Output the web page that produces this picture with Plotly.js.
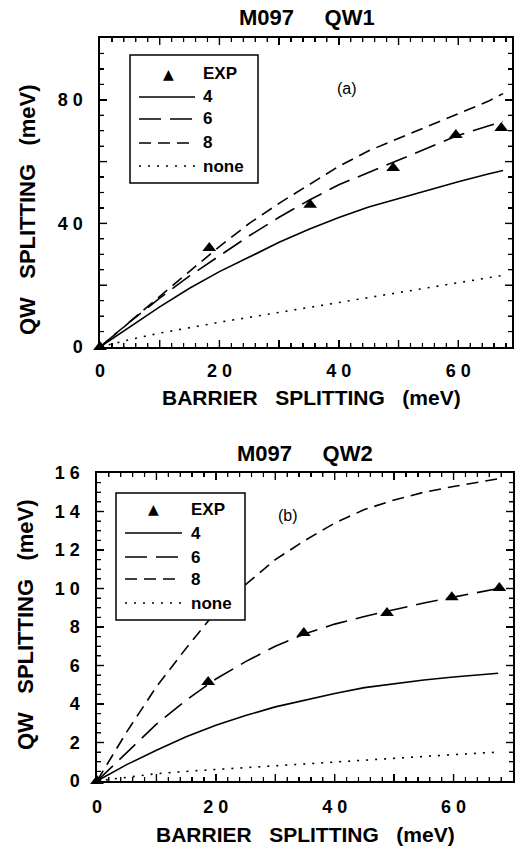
<!DOCTYPE html>
<html>
<head>
<meta charset="utf-8">
<script src="https://cdn.plot.ly/plotly-3.0.1.min.js"></script>
<style>html,body{margin:0;padding:0;background:#fff;}#chart{width:518px;height:847px;}</style>
</head>
<body>
<div id="chart"></div>
<script>
// ---------- data ----------
const seriesNames = ["EXP", "4", "6", "8", "none"];
const xCalc = [0, 5, 10, 15, 20, 25, 30, 35, 40, 45, 50, 55, 60, 65, 67.5];

// panel (a): M097 QW1
const qw1ExpX = [0, 18.3, 35.2, 49.1, 59.6, 67.2];
const qw1ExpY = [0, 32.0, 46.0, 57.9, 68.6, 70.9];
const qw1_4    = [0, 6.6, 13.0, 19.0, 24.4, 29.1, 33.9, 38.1, 41.9, 45.3, 48.0, 50.9, 53.5, 56.0, 57.1];
const qw1_6    = [0, 8.1, 15.8, 23.0, 29.5, 36.0, 42.0, 47.5, 52.5, 56.5, 60.5, 64.5, 68.5, 71.5, 73.0];
const qw1_8    = [0, 8.2, 16.5, 24.5, 32.5, 40.0, 46.5, 52.5, 58.5, 63.5, 67.5, 71.5, 75.5, 79.5, 82.0];
const qw1_none = [0, 2.4, 4.5, 6.3, 8.0, 9.6, 11.2, 12.7, 14.2, 15.9, 17.4, 19.0, 20.6, 22.3, 23.2];

// panel (b): M097 QW2
const qw2ExpX = [0, 18.7, 34.8, 48.8, 59.7, 67.7];
const qw2ExpY = [0, 5.14, 7.69, 8.73, 9.55, 10.03];
const qw2_4    = [0, 0.85, 1.6, 2.3, 2.9, 3.4, 3.85, 4.2, 4.55, 4.85, 5.05, 5.25, 5.4, 5.55, 5.6];
const qw2_6    = [0, 1.5, 2.95, 4.2, 5.3, 6.2, 7.0, 7.65, 8.15, 8.55, 8.9, 9.25, 9.55, 9.85, 10.0];
const qw2_8    = [0, 2.55, 4.9, 6.9, 8.8, 10.2, 11.5, 12.5, 13.4, 14.1, 14.6, 15.0, 15.3, 15.55, 15.7];
const qw2_none = [0, 0.2, 0.38, 0.5, 0.6, 0.7, 0.8, 0.9, 1.0, 1.08, 1.17, 1.27, 1.37, 1.46, 1.5];

// tick labels (default label -> displayed label)
const xTickAlias  = {"10": "", "20": "2 0", "30": "", "40": "4 0", "50": "", "60": "6 0"};
const y1TickAlias = {"20": "", "40": "4 0", "60": "", "80": "8 0", "100": ""};
const y2TickAlias = {"10": "1 0", "12": "1 2", "14": "1 4", "16": "1 6"};

// ---------- styles ----------
const W = 518, H = 847;
const FONT = "Liberation Sans, Arial, Helvetica, sans-serif";
const lineDash = {"4": "solid", "6": "22px,9px", "8": "12px,7px", "none": "2px,7px"};
const LW = 1.6;
const NB = "\u00a0";
const sp = n => NB.repeat(n);
const pxX = x => x / W;
const pxY = y => 1 - y / H;

// panel frames in pixels, with their axis ranges
const P1 = {L: 100, R: 512, T: 38, B: 347, xMax: 69, yMax: 100};
const P2 = {L: 97, R: 513, T: 473, B: 781, xMax: 70, yMax: 16};

function curve(x, y, name, xa, ya) {
  return {x: x, y: y, type: "scatter", mode: "lines", name: name, xaxis: xa, yaxis: ya,
    line: {color: "black", width: LW, dash: lineDash[name]}, showlegend: false, hoverinfo: "skip"};
}
function exp(x, y, xa, ya) {
  return {x: x, y: y, type: "scatter", mode: "markers", name: "EXP", xaxis: xa, yaxis: ya,
    marker: {symbol: "triangle-up", size: 12, color: "black"}, cliponaxis: false, showlegend: false};
}

const traces = [
  curve(xCalc, qw1_4, "4", "x", "y"),
  curve(xCalc, qw1_6, "6", "x", "y"),
  curve(xCalc, qw1_8, "8", "x", "y"),
  curve(xCalc, qw1_none, "none", "x", "y"),
  exp(qw1ExpX, qw1ExpY, "x", "y"),
  curve(xCalc, qw2_4, "4", "x2", "y2"),
  curve(xCalc, qw2_6, "6", "x2", "y2"),
  curve(xCalc, qw2_8, "8", "x2", "y2"),
  curve(xCalc, qw2_none, "none", "x2", "y2"),
  exp(qw2ExpX, qw2ExpY, "x2", "y2")
];

const tickFont = {family: FONT, size: 18, color: "black", weight: "bold"};
function axis(extra, minorDtick) {
  return Object.assign({
    showline: true, linecolor: "black", linewidth: 1.6, mirror: "ticks",
    ticks: "inside", ticklen: 7, tickwidth: 1.4, tickcolor: "black",
    showgrid: false, zeroline: false, tickfont: tickFont, fixedrange: true,
    tickmode: "linear", tick0: 0, layer: "above traces",
    minor: {ticks: "inside", ticklen: 4, tickwidth: 1.2, tickcolor: "black", dtick: minorDtick, showgrid: false}
  }, extra);
}

const shapes = [];
const annotations = [];

// ---------- frame tick marks on all four sides (paper-referenced, from the panel's axis range) ----------
function frameTicks(P, xMajor, xMinor, yMajor, yMinor) {
  const sx = v => P.L + v * (P.R - P.L) / P.xMax;
  const sy = v => P.B - v * (P.B - P.T) / P.yMax;
  const isMajor = (v, m) => Math.abs(v / m - Math.round(v / m)) < 1e-6;
  const seg = (x0, y0, x1, y1, w) => shapes.push({type: "line", layer: "above", xref: "paper", yref: "paper",
    x0: pxX(x0), x1: pxX(x1), y0: pxY(y0), y1: pxY(y1), line: {color: "black", width: w}});
  for (let v = xMinor; v < P.xMax - 1e-9; v += xMinor) {
    const mj = isMajor(v, xMajor), len = mj ? 7 : 4, w = mj ? 1.4 : 1.2, x = sx(v);
    seg(x, P.B, x, P.B - len, w);
    seg(x, P.T, x, P.T + len, w);
  }
  for (let v = yMinor; v < P.yMax - 1e-9; v += yMinor) {
    const mj = isMajor(v, yMajor), len = mj ? 7 : 4, w = mj ? 1.4 : 1.2, y = sy(v);
    seg(P.L, y, P.L + len, y, w);
    seg(P.R, y, P.R - len, y, w);
  }
}
frameTicks(P1, 10, 2, 20, 5);
frameTicks(P2, 10, 2, 2, 0.5);

// ---------- legend (drawn as box + samples) ----------
function legend(P, o) {
  const L = P.L + o.left, T = P.T + o.top;
  shapes.push({type: "rect", xref: "paper", yref: "paper", layer: "above",
    x0: pxX(L), x1: pxX(L + o.w), y0: pxY(T), y1: pxY(T + o.h),
    line: {color: "black", width: 1.5}, fillcolor: "white"});
  seriesNames.forEach((nm, i) => {
    const yy = P.T + o.rows[i];
    if (nm === "EXP") {
      annotations.push({xref: "paper", yref: "paper", x: pxX(P.L + o.tri), y: pxY(yy),
        text: "\u25B2", showarrow: false, xanchor: "center", yanchor: "middle",
        font: {family: "DejaVu Sans", size: 14, color: "black"}});
    } else {
      shapes.push({type: "line", xref: "paper", yref: "paper", layer: "above",
        x0: pxX(P.L + o.s0), x1: pxX(P.L + o.s1), y0: pxY(yy), y1: pxY(yy),
        line: {color: "black", width: LW, dash: lineDash[nm]}});
    }
    annotations.push({xref: "paper", yref: "paper", x: pxX(P.L + o.text), y: pxY(yy),
      text: nm, showarrow: false, xanchor: "left", yanchor: "middle",
      font: {family: FONT, size: 17, color: "black", weight: "bold"}});
  });
}
legend(P1, {left: 30, top: 17, w: 128, h: 128, rows: [36, 59, 81, 105, 128], s0: 39, s1: 95, text: 101, tri: 68});
legend(P2, {left: 19, top: 20, w: 129, h: 127, rows: [36, 60, 84, 106, 130], s0: 28, s1: 85, text: 92, tri: 56});

// ---------- titles & labels ----------
function label(x, y, text, size, bold, angle) {
  annotations.push({xref: "paper", yref: "paper", x: pxX(x), y: pxY(y), text: text,
    showarrow: false, xanchor: "center", yanchor: "middle", textangle: angle || 0,
    font: {family: FONT, size: size, color: "black", weight: bold ? "bold" : "normal"}});
}
label(307, 18, "M097" + sp(5) + "QW1", 22, true);
label(305, 453, "M097" + sp(5) + "QW2", 22, true);
label(311, 397, "BARRIER" + sp(3) + "SPLITTING" + sp(3) + "(meV)", 21, true);
label(305, 834, "BARRIER" + sp(3) + "SPLITTING" + sp(3) + "(meV)", 21, true);
label(27, 210, "QW" + sp(3) + "SPLITTING" + sp(3) + "(meV)", 22, true, -90);
label(25, 625, "QW" + sp(3) + "SPLITTING" + sp(3) + "(meV)", 22, true, -90);
label(347, 88, "(a)", 16, false);
label(288, 515, "(b)", 16, false);

const layout = {
  width: W, height: H, margin: {l: 0, r: 0, t: 0, b: 0},
  paper_bgcolor: "white", plot_bgcolor: "rgba(0,0,0,0)", showlegend: false,
  xaxis: axis({domain: [pxX(P1.L), pxX(P1.R)], range: [0, P1.xMax], anchor: "y",
    dtick: 10, labelalias: xTickAlias, ticklabelstandoff: 7}, 2),
  yaxis: axis({domain: [pxY(P1.B), pxY(P1.T)], range: [0, P1.yMax], anchor: "x",
    dtick: 20, labelalias: y1TickAlias, ticklabelstandoff: 12}, 5),
  xaxis2: axis({domain: [pxX(P2.L), pxX(P2.R)], range: [0, P2.xMax], anchor: "y2",
    dtick: 10, labelalias: xTickAlias, ticklabelstandoff: 9}, 2),
  yaxis2: axis({domain: [pxY(P2.B), pxY(P2.T)], range: [0, P2.yMax], anchor: "x2",
    dtick: 2, labelalias: y2TickAlias, ticklabelstandoff: 12}, 0.5),
  shapes: shapes,
  annotations: annotations
};

Plotly.newPlot("chart", traces, layout, {staticPlot: true, displayModeBar: false});
</script>
</body>
</html>
